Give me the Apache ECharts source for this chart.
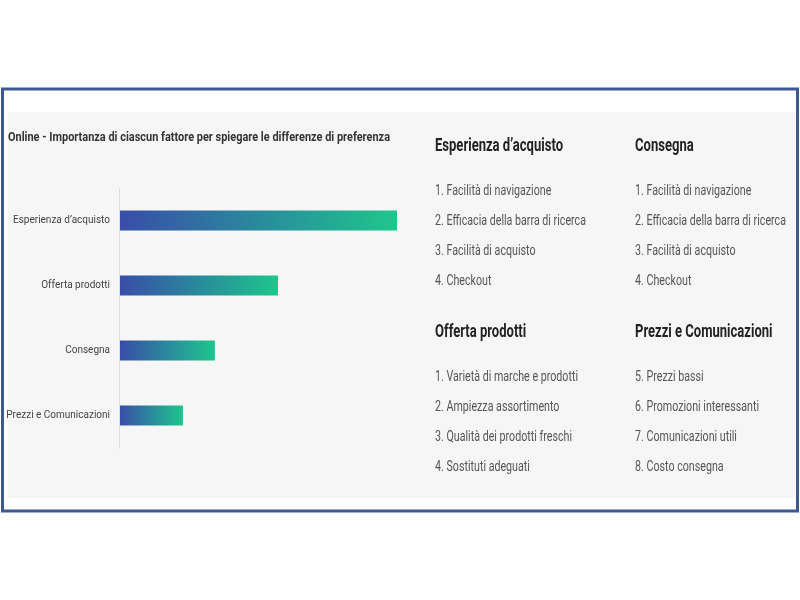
<!DOCTYPE html>
<html>
<head>
<meta charset="utf-8">
<script src="https://cdn.jsdelivr.net/npm/echarts@6/dist/echarts.min.js"></script>
<style>
  html, body { margin: 0; padding: 0; background: #fff; }
  #chart { width: 800px; height: 600px; }
</style>
</head>
<body>
<div id="chart"></div>
<script>
// dati
const categories = ['Esperienza d\u2019acquisto', 'Offerta prodotti', 'Consegna', 'Prezzi e Comunicazioni'];
const values = [100, 57.2, 34.5, 23.0];
const chartTitle = 'Online - Importanza di ciascun fattore per spiegare le differenze di preferenza';

const groupTitles = ['Esperienza d\u2019acquisto', 'Consegna', 'Offerta prodotti', 'Prezzi e Comunicazioni'];
const groupItems = [
  ['1. Facilit\u00e0 di navigazione', '2. Efficacia della barra di ricerca', '3. Facilit\u00e0 di acquisto', '4. Checkout'],
  ['1. Facilit\u00e0 di navigazione', '2. Efficacia della barra di ricerca', '3. Facilit\u00e0 di acquisto', '4. Checkout'],
  ['1. Variet\u00e0 di marche e prodotti', '2. Ampiezza assortimento', '3. Qualit\u00e0 dei prodotti freschi', '4. Sostituti adeguati'],
  ['5. Prezzi bassi', '6. Promozioni interessanti', '7. Comunicazioni utili', '8. Costo consegna']
];

const FONT = 'Roboto';
const chart = echarts.init(document.getElementById('chart'));

// il testo originale è condensato: stringo in orizzontale
const ctx = document.createElement('canvas').getContext('2d');
function squeeze(text, weight, size, target) {
  ctx.font = weight + ' ' + size + 'px ' + FONT;
  return target / ctx.measureText(text).width;
}
const titleScale = squeeze(chartTitle, 'bold', 13, 382);
const headScale = squeeze(groupTitles[0], 'bold', 18, 128);
const itemScale = squeeze(groupItems[0][1], 'normal', 14.5, 151);

function txt(text, x, y, weight, size, color, sx) {
  return {
    type: 'text', x: x, y: y, scaleX: sx, z: 10,
    style: { text: text, fill: color, fontFamily: FONT, fontWeight: weight, fontSize: size,
             verticalAlign: 'middle', align: 'left' }
  };
}

// testi a destra
const textEls = [];
const colX = [435, 635];
const blockY = [146, 332];
groupTitles.forEach((t, i) => {
  const x = colX[i % 2];
  const y = blockY[Math.floor(i / 2)];
  textEls.push(txt(t, x, y, 'bold', 18, '#222', headScale));
  groupItems[i].forEach((it, j) => {
    textEls.push(txt(it, x, y + 45 + j * 30.2, 'normal', 14.5, '#555', itemScale));
  });
});

const option = {
  backgroundColor: '#fff',
  animation: false,
  graphic: [
    { type: 'rect', shape: { x: 2.5, y: 89, width: 795, height: 422 }, z: -20,
      style: { fill: '#fff', stroke: '#3d5a94', lineWidth: 3 } },
    { type: 'rect', shape: { x: 8, y: 112, width: 787, height: 386 }, z: -10,
      style: { fill: '#f6f6f6' } },
    txt(chartTitle, 8, 138, 'bold', 13, '#333', titleScale),
    ...textEls
  ],
  grid: { left: 119, top: 188, width: 278, height: 260, containLabel: false, outerBoundsMode: 'none' },
  xAxis: {
    type: 'value', min: 0, max: 100,
    show: false
  },
  yAxis: {
    type: 'category',
    data: categories,
    inverse: true,
    z: 10,
    axisLine: { show: true, lineStyle: { color: '#ddd', width: 1 } },
    axisTick: { show: false },
    axisLabel: { color: '#444', fontSize: 10, fontFamily: FONT, margin: 9 }
  },
  series: [{
    type: 'bar',
    data: values,
    barWidth: 20,
    z: 5,
    itemStyle: {
      color: new echarts.graphic.LinearGradient(0, 0, 1, 0, [
        { offset: 0, color: '#3a4ca8' },
        { offset: 0.5, color: '#2a8a9c' },
        { offset: 1, color: '#1fc68c' }
      ])
    }
  }]
};
chart.setOption(option);
window.addEventListener('resize', () => chart.resize());
</script>
</body>
</html>
